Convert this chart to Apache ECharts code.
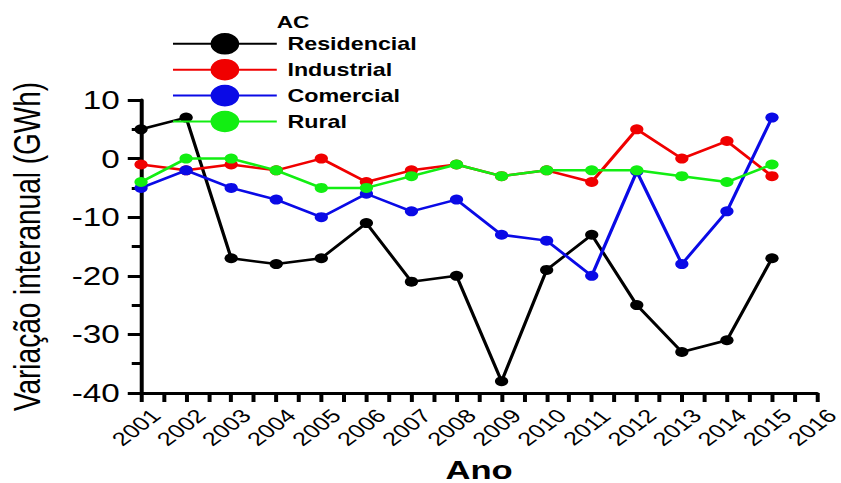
<!DOCTYPE html>
<html>
<head>
<meta charset="utf-8">
<script src="https://cdn.jsdelivr.net/npm/echarts@6/dist/echarts.min.js"></script>
<style>
html,body{margin:0;padding:0;background:#fff;overflow:hidden;}
#wrap{width:841px;height:483px;overflow:hidden;}
#c{width:632px;height:483px;transform:scaleX(1.3307);transform-origin:0 0;}
</style>
</head>
<body>
<div id="wrap"><div id="c"></div></div>
<script>
const years = [2001,2002,2003,2004,2005,2006,2007,2008,2009,2010,2011,2012,2013,2014,2015];
const residencial = [5,7,-17,-18,-17,-11,-21,-20,-38,-19,-13,-25,-33,-31,-17];
const industrial  = [-1,-2,-1,-2,0,-4,-2,-1,-3,-2,-4,5,0,3,-3];
const comercial   = [-5,-2,-5,-7,-10,-6,-9,-7,-13,-14,-20,-2.2,-18,-9,7];
const rural       = [-4,0,0,-2,-5,-5,-3,-1,-3,-2,-2,-2,-3,-4,-1];
const seriesNames = ['Residencial','Industrial','Comercial','Rural'];
const seriesColors = ['#000000','#f00000','#0a0ae6','#12ee12'];
const seriesData = [residencial, industrial, comercial, rural];
const legendTitle = 'AC';
const xTitle = 'Ano';
const yTitle = 'Variação interanual (GWh)';

const font = 'Liberation Sans, Arial, sans-serif';
const chart = echarts.init(document.getElementById('c'), null, {renderer:'svg'});
chart.setOption({
  animation:false,
  backgroundColor:'#fff',
  title:{text:legendTitle,left:208,top:14,padding:0,textStyle:{fontFamily:font,fontWeight:'bold',fontSize:17,color:'#000'}},
  legend:{
    orient:'vertical',left:129,top:33,itemWidth:78,itemHeight:27,itemGap:4.3,padding:0,
    data:seriesNames,
    textStyle:{fontFamily:font,fontWeight:'bold',fontSize:17.5,color:'#000',padding:[0,0,0,3]}
  },
  grid:{left:106,right:18,top:100,bottom:90,containLabel:false,outerBoundsMode:'none'},
  xAxis:{
    type:'value',min:2001,max:2016,interval:1,
    name:xTitle,nameLocation:'middle',nameGap:64,
    nameTextStyle:{fontFamily:font,fontWeight:'bold',fontSize:26,color:'#000'},
    axisLine:{onZero:false,lineStyle:{color:'#000',width:3}},
    axisTick:{show:true,length:9,lineStyle:{color:'#000',width:3}},
    minorTick:{show:true,splitNumber:2,length:9,lineStyle:{color:'#000',width:3}},
    splitLine:{show:false},
    axisLabel:{rotate:45,align:'center',verticalAlign:'middle',fontFamily:font,fontSize:19,color:'#000',margin:31,padding:[0,10,0,0],formatter:v=>String(v)}
  },
  yAxis:{
    type:'value',min:-40,max:10,interval:10,
    name:yTitle,nameLocation:'middle',nameGap:72,nameRotate:90,
    nameTextStyle:{fontFamily:font,fontSize:28,color:'#000'},
    axisLine:{show:true,lineStyle:{color:'#000',width:3}},
    axisTick:{show:true,length:10,lineStyle:{color:'#000',width:3}},
    minorTick:{show:true,splitNumber:2,length:7,lineStyle:{color:'#000',width:3}},
    splitLine:{show:false},
    axisLabel:{fontFamily:font,fontSize:25,color:'#000',margin:16}
  },
  series:seriesNames.map((n,i)=>({
    name:n,type:'line',
    data:years.map((y,j)=>[y,seriesData[i][j]]),
    symbol:'circle',symbolSize:10,
    lineStyle:{color:seriesColors[i],width:2.5},
    itemStyle:{color:seriesColors[i]},
    z:2+i
  }))
});
</script>
</body>
</html>
